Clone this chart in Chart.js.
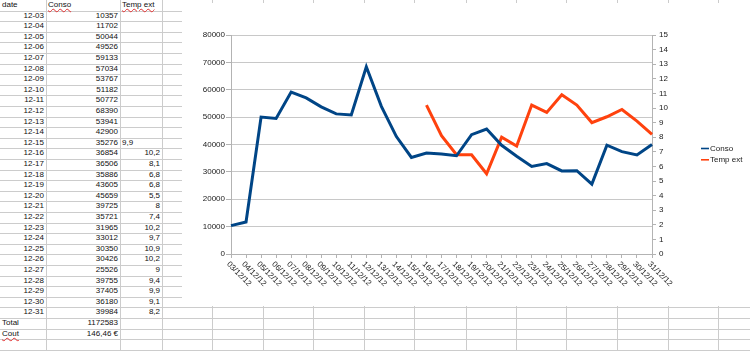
<!DOCTYPE html>
<html>
<head>
<meta charset="utf-8">
<script src="https://cdn.jsdelivr.net/npm/chart.js@4/dist/chart.umd.min.js"></script>
<style>
  html, body { margin: 0; padding: 0; background: #fff; }
  body { width: 750px; height: 351px; overflow: hidden; position: relative;
         font-family: "Liberation Sans", Arial, sans-serif; font-size: 8px; color: #111; }
  .ligne { position: absolute; background: #cccccc; }
  .cell { position: absolute; white-space: nowrap; overflow: visible; }
  .faute { text-decoration: underline wavy #e03030; text-decoration-thickness: 1px; text-underline-offset: 1px; }
  #graphe { position: absolute; left: 182px; top: 3px; width: 568px; height: 303px; background: #fff; }
</style>
</head>
<body>
<div id="feuille"></div>
<div id="graphe"><canvas id="consoChart"></canvas></div>
<script>
// données de la feuille
const dates = ['12-03','12-04','12-05','12-06','12-07','12-08','12-09','12-10','12-11','12-12',
  '12-13','12-14','12-15','12-16','12-17','12-18','12-19','12-20','12-21','12-22','12-23',
  '12-24','12-25','12-26','12-27','12-28','12-29','12-30','12-31'];
const etiquettes = ['03/12/12','04/12/12','05/12/12','06/12/12','07/12/12','08/12/12','09/12/12',
  '10/12/12','11/12/12','12/12/12','13/12/12','14/12/12','15/12/12','16/12/12','17/12/12',
  '18/12/12','19/12/12','20/12/12','21/12/12','22/12/12','23/12/12','24/12/12','25/12/12',
  '26/12/12','27/12/12','28/12/12','29/12/12','30/12/12','31/12/12'];
const conso = [10357, 11702, 50044, 49526, 59133, 57034, 53767, 51182, 50772, 68390,
  53941, 42900, 35276, 36854, 36506, 35886, 43605, 45659, 39725, 35721, 31965,
  33012, 30350, 30426, 25526, 39755, 37405, 36180, 39984];
// le 15/12 est saisi en texte ("9,9") donc pas tracé
const tempExt = [null, null, null, null, null, null, null, null, null, null,
  null, null, '9,9', 10.2, 8.1, 6.8, 6.8, 5.5, 8, 7.4, 10.2,
  9.7, 10.9, 10.2, 9, 9.4, 9.9, 9.1, 8.2];
const cout = '146,46 €';

const HAUTEUR_LIGNE = 10.6;
const colonnes = [46, 120, 162, 212, 263, 313, 364, 414, 466, 516, 566, 617, 668, 718];

// grille du tableur
const feuille = document.getElementById('feuille');
function ajoute(html) { feuille.insertAdjacentHTML('beforeend', html); }
for (let k = 1; k < 34; k++) {
  ajoute(`<div class="ligne" style="left:0;width:750px;top:${(k * HAUTEUR_LIGNE).toFixed(1)}px;height:1px"></div>`);
}
colonnes.forEach(x => ajoute(`<div class="ligne" style="left:${x}px;top:0;width:1px;height:351px"></div>`));

function cellule(ligne, gauche, largeur, texte, align, classe) {
  const pad = align === 'right' ? 'padding-right:2px;' : 'padding-left:2px;';
  ajoute(`<div class="cell" style="top:${(ligne * HAUTEUR_LIGNE).toFixed(1)}px;left:${gauche}px;width:${largeur - 2}px;` +
    `line-height:${HAUTEUR_LIGNE}px;text-align:${align};${pad}"><span class="${classe || ''}">${texte}</span></div>`);
}
cellule(0, 0, 46, 'date', 'left');
cellule(0, 46, 74, 'Conso', 'left', 'faute');
cellule(0, 120, 42, 'Temp ext', 'left', 'faute');
dates.forEach((d, i) => {
  cellule(i + 1, 0, 46, d, 'right');
  cellule(i + 1, 46, 74, conso[i], 'right');
  const t = tempExt[i];
  if (typeof t === 'number') cellule(i + 1, 120, 42, String(t).replace('.', ','), 'right');
  else if (t !== null) cellule(i + 1, 120, 42, t, 'left');
});
const total = conso.reduce((s, v) => s + v, 0);
cellule(dates.length + 1, 0, 46, 'Total', 'left');
cellule(dates.length + 1, 46, 74, total, 'right');
cellule(dates.length + 2, 0, 46, 'Cout', 'left', 'faute');
cellule(dates.length + 2, 46, 74, cout, 'right');

// étiquettes de l'axe X penchées vers le bas
const etiquettesX = {
  id: 'etiquettesX',
  afterDraw(chart) {
    const ctx = chart.ctx;
    const x = chart.scales.x;
    ctx.save();
    ctx.font = '8px "Liberation Sans", Arial, sans-serif';
    ctx.fillStyle = '#1a1a1a';
    ctx.textAlign = 'left';
    ctx.textBaseline = 'middle';
    etiquettes.forEach((lab, i) => {
      ctx.save();
      ctx.translate(x.getPixelForValue(i) - 3, x.top + 9);
      ctx.rotate(Math.PI / 4);
      ctx.fillText(lab, 0, 0);
      ctx.restore();
    });
    ctx.restore();
  }
};

// légende à droite, petit trait + texte
const legende = {
  id: 'legende',
  afterDraw(chart) {
    const ctx = chart.ctx;
    const x0 = chart.chartArea.right + 49;
    ctx.save();
    ctx.font = '8px "Liberation Sans", Arial, sans-serif';
    ctx.textBaseline = 'middle';
    chart.data.datasets.forEach((ds, i) => {
      const y = 145.5 + i * 11.3;
      ctx.strokeStyle = ds.borderColor;
      ctx.lineWidth = 1.6;
      ctx.beginPath();
      ctx.moveTo(x0, y);
      ctx.lineTo(x0 + 8, y);
      ctx.stroke();
      ctx.fillStyle = '#1a1a1a';
      ctx.fillText(ds.label, x0 + 9, y);
    });
    ctx.restore();
  }
};

const police = { family: '"Liberation Sans", Arial, sans-serif', size: 8 };

new Chart(document.getElementById('consoChart'), {
  type: 'line',
  data: {
    labels: etiquettes,
    datasets: [
      {
        label: 'Conso',
        data: conso,
        borderColor: '#004586',
        borderWidth: 3,
        pointRadius: 0,
        tension: 0,
        yAxisID: 'y'
      },
      {
        label: 'Temp ext',
        data: tempExt.map(t => typeof t === 'number' ? t : null),
        borderColor: '#ff420e',
        borderWidth: 3,
        pointRadius: 0,
        tension: 0,
        yAxisID: 'y1'
      }
    ]
  },
  options: {
    responsive: true,
    maintainAspectRatio: false,
    animation: false,
    layout: { padding: { left: 0, top: 32, right: 68, bottom: 0 } },
    plugins: { legend: { display: false }, tooltip: { enabled: false } },
    scales: {
      x: {
        offset: false,
        grid: { display: true, drawOnChartArea: false, drawTicks: true, tickLength: 4, color: '#b3b3b3' },
        border: { color: '#b3b3b3' },
        ticks: { display: false },
        afterFit(scale) { scale.height = 52; }
      },
      y: {
        position: 'left',
        min: 0,
        max: 80000,
        ticks: { stepSize: 10000, font: police, color: '#1a1a1a', padding: 1, callback: v => String(v) },
        grid: { color: '#c8c8c8', tickLength: 5, tickColor: '#b3b3b3' },
        border: { color: '#b3b3b3' },
        afterFit(scale) { scale.width = 49; }
      },
      y1: {
        position: 'right',
        min: 0,
        max: 15,
        ticks: { stepSize: 1, font: police, color: '#1a1a1a', padding: 3 },
        grid: { drawOnChartArea: false, tickLength: 4, color: '#b3b3b3' },
        border: { color: '#b3b3b3' },
        afterFit(scale) { scale.width = 30; }
      }
    }
  },
  plugins: [etiquettesX, legende]
});
</script>
</body>
</html>
